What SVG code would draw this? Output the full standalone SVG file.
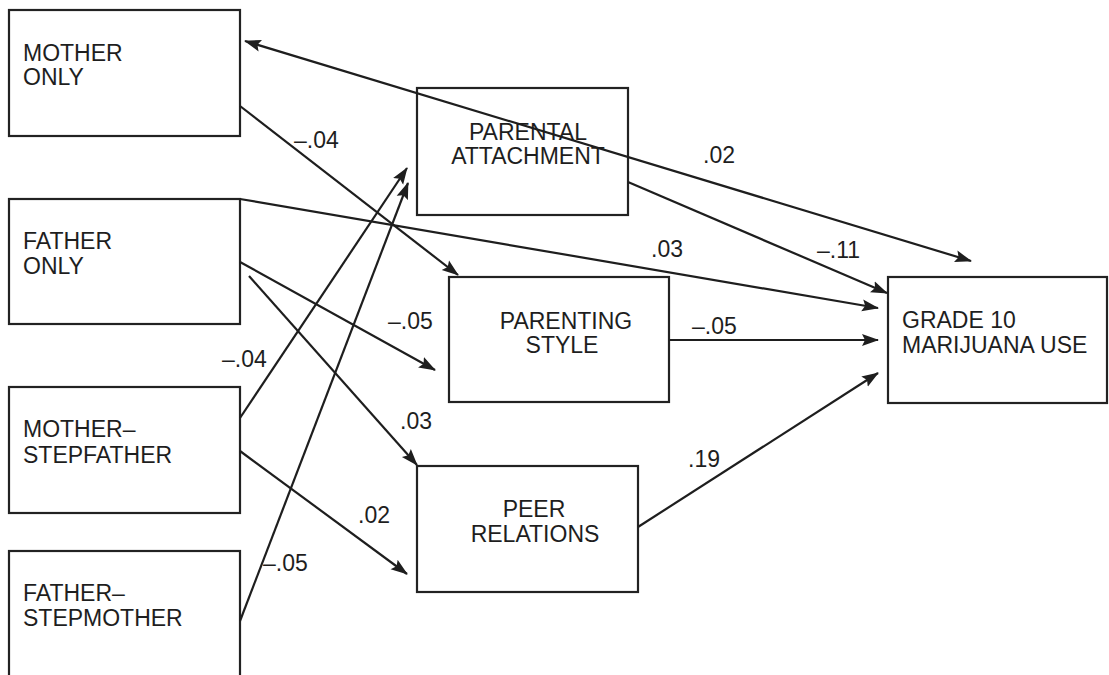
<svg xmlns="http://www.w3.org/2000/svg" width="1109" height="675" viewBox="0 0 1109 675">
<style>
.box{fill:#fff;stroke:#222;stroke-width:2.2}
.t{font-family:"Liberation Sans",Arial,sans-serif;font-size:23px;fill:#1e1e1e}
.c{text-anchor:middle}
.e{fill:none;stroke:#1e1e1e;stroke-width:2.2}
</style>
<defs>
<marker id="ah" markerUnits="userSpaceOnUse" markerWidth="18" markerHeight="14" refX="16" refY="6" orient="auto-start-reverse" viewBox="0 0 18 12">
<path d="M0,0 L17,6 L0,12 L3,6 z" fill="#1e1e1e"/>
</marker>
</defs>
<rect width="1109" height="675" fill="#fff"/>
<g id="n-mother-only"><rect class="box" x="9" y="10" width="231" height="126"/><text class="t" x="23" y="61">MOTHER</text><text class="t" x="23" y="85">ONLY</text></g>
<g id="n-father-only"><rect class="box" x="9" y="199" width="231" height="125"/><text class="t" x="23" y="249">FATHER</text><text class="t" x="23" y="274">ONLY</text></g>
<g id="n-mother-stepfather"><rect class="box" x="9" y="387" width="231" height="126"/><text class="t" x="23" y="437">MOTHER–</text><text class="t" x="23" y="463">STEPFATHER</text></g>
<g id="n-father-stepmother"><rect class="box" x="9" y="551" width="231" height="140"/><text class="t" x="23" y="601">FATHER–</text><text class="t" x="23" y="626">STEPMOTHER</text></g>
<g id="n-parental-attachment"><rect class="box" x="417" y="88" width="211" height="127"/><text class="t c" x="528" y="140">PARENTAL</text><text class="t c" x="528" y="164">ATTACHMENT</text></g>
<g id="n-parenting-style"><rect class="box" x="449" y="277" width="220" height="125"/><text class="t c" x="566" y="329">PARENTING</text><text class="t c" x="562" y="353">STYLE</text></g>
<g id="n-peer-relations"><rect class="box" x="417" y="466" width="221" height="126"/><text class="t c" x="534" y="517">PEER</text><text class="t c" x="535" y="542">RELATIONS</text></g>
<g id="n-grade10"><rect class="box" x="888" y="277" width="219" height="126"/><text class="t" x="902" y="328">GRADE 10</text><text class="t" x="902" y="353">MARIJUANA USE</text></g>
<g id="connectors">
<line class="e" x1="245" y1="41" x2="971" y2="261" marker-start="url(#ah)" marker-end="url(#ah)"/>
<line class="e" x1="240" y1="106" x2="458" y2="275" marker-end="url(#ah)"/>
<line class="e" x1="240" y1="199" x2="878" y2="308" marker-end="url(#ah)"/>
<line class="e" x1="628" y1="182" x2="887" y2="293" marker-end="url(#ah)"/>
<line class="e" x1="669" y1="340" x2="878" y2="340" marker-end="url(#ah)"/>
<line class="e" x1="638" y1="527" x2="878" y2="373" marker-end="url(#ah)"/>
<line class="e" x1="240" y1="262" x2="435" y2="370" marker-end="url(#ah)"/>
<line class="e" x1="249" y1="276" x2="417" y2="465" marker-end="url(#ah)"/>
<line class="e" x1="240" y1="418" x2="407" y2="168" marker-end="url(#ah)"/>
<line class="e" x1="240" y1="621" x2="408" y2="183" marker-end="url(#ah)"/>
<line class="e" x1="240" y1="451" x2="407" y2="574" marker-end="url(#ah)"/>
</g>
<g id="labels">
<text class="t" x="294" y="148">–.04</text>
<text class="t" x="703" y="163">.02</text>
<text class="t" x="651" y="257">.03</text>
<text class="t" x="817" y="258">–.11</text>
<text class="t" x="692" y="334">–.05</text>
<text class="t" x="388" y="329">–.05</text>
<text class="t" x="222" y="367">–.04</text>
<text class="t" x="400" y="429">.03</text>
<text class="t" x="358" y="523">.02</text>
<text class="t" x="263" y="571">–.05</text>
<text class="t" x="688" y="467">.19</text>
</g>
</svg>
